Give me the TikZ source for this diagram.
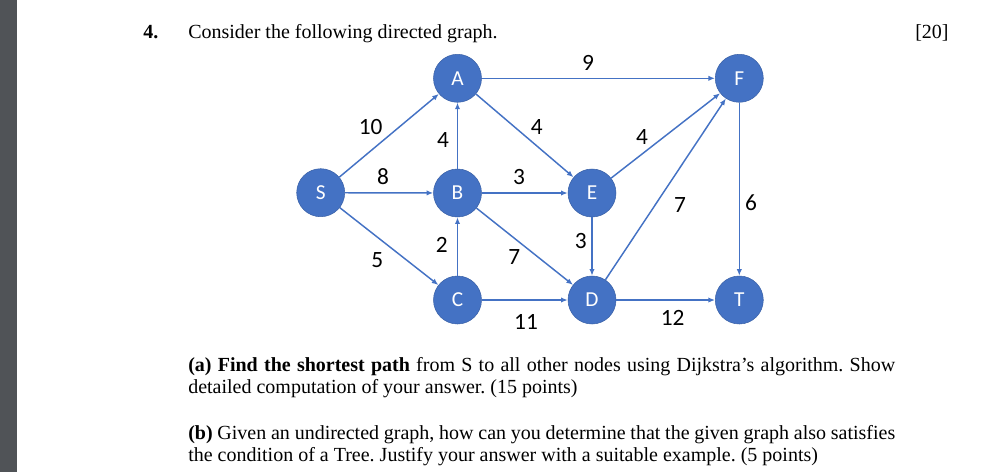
\documentclass[tikz,border=0pt]{standalone}
\usepackage{fontspec}
\setmainfont{Liberation Serif}
\newfontfamily\calib{Carlito}
\usetikzlibrary{arrows.meta}
\definecolor{nodeblue}{HTML}{4472C4}
\definecolor{edgeblue}{HTML}{4472C4}
\definecolor{barbg}{RGB}{80,83,87}
\frenchspacing
\begin{document}
\begin{tikzpicture}[x=0.75pt,y=-0.75pt,
 vtx/.style={circle,fill=nodeblue,draw=nodeblue!85!black,line width=0.4pt,minimum size=36pt,inner sep=0pt,text=white,font=\calib\fontsize{16}{18}\selectfont},
 edge/.style={draw=edgeblue,line width=1.1pt,-{Latex[length=5pt,width=4pt]}},
 wlab/.style={inner sep=0pt,font=\calib\fontsize{17.5}{20}\selectfont},
 body/.style={inner sep=0pt,anchor=base west,font=\frenchspacing\fontsize{15}{17}\selectfont}]
\useasboundingbox (0,0) rectangle (1000,472);
\fill[barbg] (0,0) rectangle (16.5,472);
% nodes
\node[vtx] (S) at (320.7,192.7) {S};
\node[vtx] (A) at (457.5,78.3) {A};
\node[vtx] (B) at (457.5,193) {B};
\node[vtx] (C) at (457.5,300) {C};
\node[vtx] (E) at (592,193) {E};
\node[vtx] (D) at (592,300) {D};
\node[vtx] (F) at (739.3,78.3) {F};
\node[vtx] (T) at (739.3,300) {T};
% edges
\draw[edge] (S) -- (A);
\draw[edge] (S) -- (B);
\draw[edge] (S) -- (C);
\draw[edge] (B) -- (A);
\draw[edge] (A) -- (E);
\draw[edge] (A) -- (F);
\draw[edge] (B) -- (E);
\draw[edge] (B) -- (D);
\draw[edge] (C) -- (B);
\draw[edge] (C) -- (D);
\draw[edge] (E) -- (D);
\draw[edge] (E) -- (F);
\draw[edge] (D) -- (F);
\draw[edge] (F) -- (T);
\draw[edge] (D) -- (T);
% weights
\node[wlab] (wAF) at (588,63) {9};
\node[wlab] (wSA) at (370.7,127) {10};
\node[wlab] (wBA) at (443,140) {4};
\node[wlab] (wAE) at (536.7,126.7) {4};
\node[wlab] (wSB) at (383,176.7) {8};
\node[wlab] (wBE) at (519,176.7) {3};
\node[wlab] (wEF) at (642,137) {4};
\node[wlab] (wDF) at (680,205) {7};
\node[wlab] (wFT) at (751,202.7) {6};
\node[wlab] (wCB) at (441.7,245) {2};
\node[wlab] (wSC) at (377.3,260) {5};
\node[wlab] (wBD) at (514.3,257.3) {7};
\node[wlab] (wCD) at (526,321.7) {11};
\node[wlab] (wED) at (580.7,240.7) {3};
\node[wlab] (wDT) at (672.7,318.3) {12};
% text
\node[body] (num) at (143,38) {\textbf{4.}};
\node[body] (title) at (188,38) {Consider the following directed graph.};
\node[body] (pts) at (915,38) {[20]};
\node[body] (a1) at (188,371.7) {\makebox[530.25pt][s]{\textbf{(a) Find the shortest path} from S to all other nodes using Dijkstra’s algorithm. Show}};
\node[body] (a2) at (188,393.3) {detailed computation of your answer. (15 points)};
\node[body] (b1) at (188,439.3) {\makebox[530.25pt][s]{\textbf{(b)} Given an undirected graph, how can you determine that the given graph also satisfies}};
\node[body] (b2) at (188,461.7) {the condition of a Tree. Justify your answer with a suitable example. (5 points)};
\end{tikzpicture}
\end{document}
